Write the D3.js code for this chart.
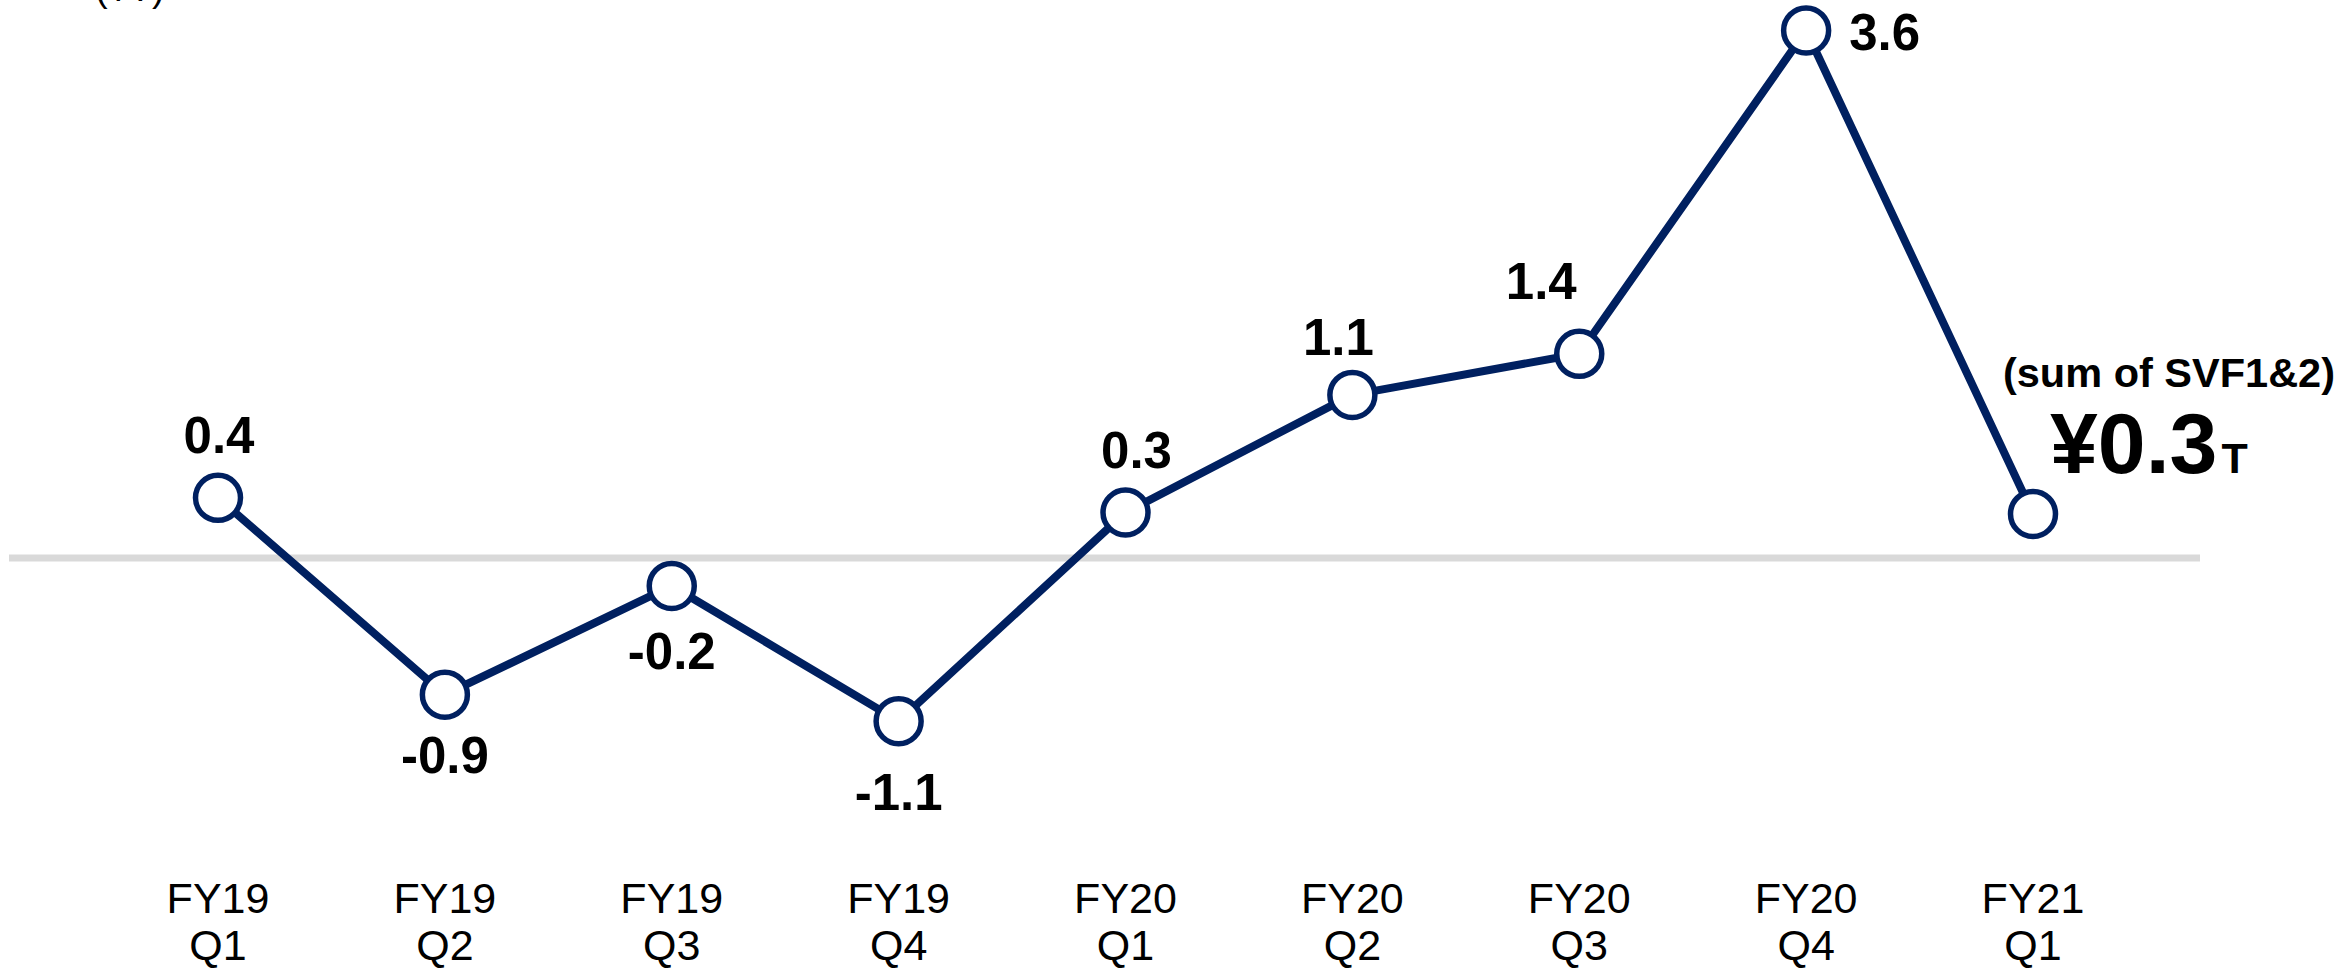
<!DOCTYPE html>
<html>
<head>
<meta charset="utf-8">
<script src="https://cdn.jsdelivr.net/npm/d3@7"></script>
<style>
  html, body { margin: 0; padding: 0; background: #ffffff; }
  svg { display: block; font-family: "Liberation Sans", Arial, sans-serif; }
</style>
</head>
<body>
<svg id="chart" width="2352" height="968"></svg>
<script>
// ---- data ----
const fiscalYears = ["FY19", "FY19", "FY19", "FY19", "FY20", "FY20", "FY20", "FY20", "FY21"];
const quarters    = ["Q1", "Q2", "Q3", "Q4", "Q1", "Q2", "Q3", "Q4", "Q1"];
const values      = [0.41, -0.93, -0.19, -1.11, 0.31, 1.11, 1.39, 3.59, 0.30];
const valueLabels = ["0.4", "-0.9", "-0.2", "-1.1", "0.3", "1.1", "1.4", "3.6", ""];
const unitLabel   = "(¥T)";
const lastNote    = "(sum of SVF1&2)";
const lastBig     = "¥0.3";
const lastUnit    = "T";

// ---- label placement (style, not data) ----
const labelPlace = [
  {dx: 1,   dy: -45, anchor: "middle"},
  {dx: 0,   dy: 78,  anchor: "middle"},
  {dx: 0,   dy: 83,  anchor: "middle"},
  {dx: 0,   dy: 89,  anchor: "middle"},
  {dx: 11,  dy: -44, anchor: "middle"},
  {dx: -14, dy: -40, anchor: "middle"},
  {dx: -38, dy: -55, anchor: "middle"},
  {dx: 43,  dy: 20,  anchor: "start"},
  {dx: 0,   dy: 0,   anchor: "middle"}
];

const svg = d3.select("#chart");
const cats = values.map((v, i) => i);

const x = d3.scalePoint().domain(cats).range([218, 2033]);
const y = d3.scaleLinear().domain([-1.2, 3.6]).range([734.4, 29]);

const navy = "#002060";

// unit label (cut at top, as in the reference)
svg.append("text")
  .attr("x", 95).attr("y", 1)
  .attr("font-size", 38)
  .attr("fill", "#000")
  .text(unitLabel);

// zero line
svg.append("line")
  .attr("x1", 9).attr("x2", 2200)
  .attr("y1", y(0)).attr("y2", y(0))
  .attr("stroke", "#d9d9d9").attr("stroke-width", 7);

// line
const line = d3.line().x((d, i) => x(i)).y(d => y(d));
svg.append("path")
  .datum(values)
  .attr("d", line)
  .attr("fill", "none")
  .attr("stroke", navy)
  .attr("stroke-width", 8)
  .attr("stroke-linejoin", "round");

// points
svg.selectAll("circle.pt")
  .data(values)
  .join("circle")
  .attr("class", "pt")
  .attr("cx", (d, i) => x(i))
  .attr("cy", d => y(d))
  .attr("r", 22.5)
  .attr("fill", "#fff")
  .attr("stroke", navy)
  .attr("stroke-width", 5.5);

// value labels
svg.selectAll("text.val")
  .data(values)
  .join("text")
  .attr("class", "val")
  .attr("x", (d, i) => x(i) + labelPlace[i].dx)
  .attr("y", (d, i) => y(d) + labelPlace[i].dy)
  .attr("text-anchor", (d, i) => labelPlace[i].anchor)
  .attr("font-size", 51)
  .attr("font-weight", "bold")
  .attr("fill", "#000")
  .text((d, i) => valueLabels[i]);

// last-point annotation
svg.append("text")
  .attr("x", 2169).attr("y", 387)
  .attr("text-anchor", "middle")
  .attr("font-size", 41.5)
  .attr("font-weight", "bold")
  .text(lastNote);
const big = svg.append("text")
  .attr("x", 2050).attr("y", 473)
  .attr("font-weight", "bold");
big.append("tspan").attr("font-size", 86).text(lastBig);
big.append("tspan").attr("font-size", 43).attr("dx", 4).text(lastUnit);

// category axis labels
const cat = svg.selectAll("g.cat")
  .data(cats)
  .join("g")
  .attr("class", "cat")
  .attr("transform", i => `translate(${x(i)},0)`);
cat.append("text")
  .attr("y", 913).attr("text-anchor", "middle")
  .attr("font-size", 43).attr("fill", "#000")
  .text(i => fiscalYears[i]);
cat.append("text")
  .attr("y", 960).attr("text-anchor", "middle")
  .attr("font-size", 43).attr("fill", "#000")
  .text(i => quarters[i]);
</script>
</body>
</html>
